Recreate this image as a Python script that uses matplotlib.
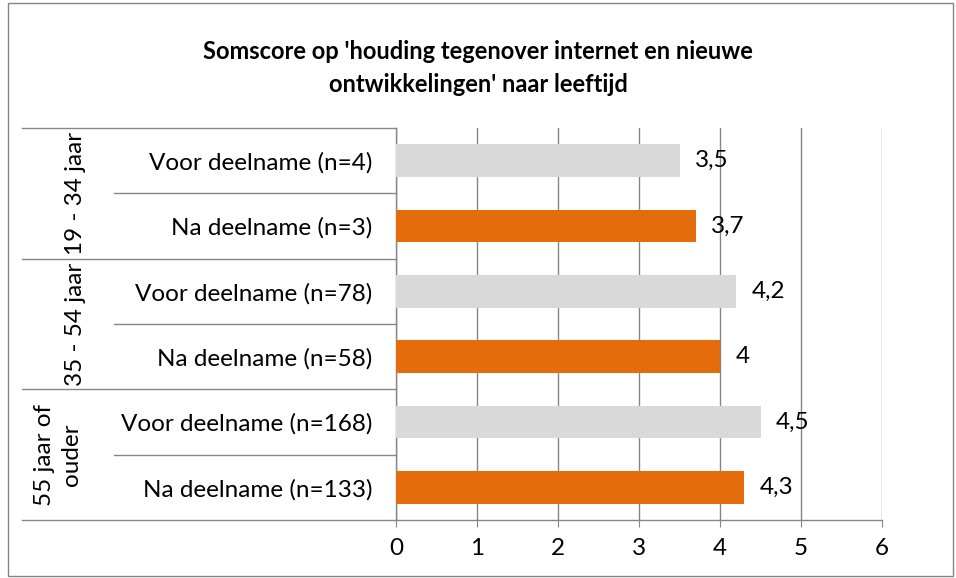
import numpy as np
import matplotlib
matplotlib.use("Agg")
import matplotlib.pyplot as plt
from matplotlib.patches import Rectangle

plt.rcParams['font.family'] = ['Lato', 'DejaVu Sans']

# data
categories = ["Voor deelname (n=4)", "Na deelname (n=3)",
              "Voor deelname (n=78)", "Na deelname (n=58)",
              "Voor deelname (n=168)", "Na deelname (n=133)"]
groups = ["19 - 34 jaar", "35 - 54 jaar", "55 jaar of\nouder"]
scores = [3.5, 3.7, 4.2, 4.0, 4.5, 4.3]
title = "Somscore op 'houding tegenover internet en nieuwe\nontwikkelingen' naar leeftijd"

W, H = 956, 578
grey = '#D9D9D9'
orange = '#E46C0A'
linec = '#868686'
fs = 17.5

fig = plt.figure(figsize=(W / 100, H / 100), dpi=100)
ax = fig.add_axes([396 / W, 58 / H, 486 / W, 392 / H])

y = np.arange(len(scores))
colors = [grey if i % 2 == 0 else orange for i in range(len(scores))]
ax.barh(y, scores, height=0.5, color=colors, zorder=3)

ax.set_xlim(0, 6)
ax.set_ylim(len(scores) - 0.5, -0.5)
ax.set_xticks(range(7))
ax.tick_params(axis='x', direction='out', length=5, color=linec, labelsize=fs, pad=8)
ax.set_yticks(y)
ax.set_yticklabels(categories, fontsize=fs)
ax.tick_params(axis='y', length=0, pad=17)
ax.grid(axis='x', color=linec, linewidth=1, zorder=0)
ax.set_axisbelow(True)
for s in ['top', 'right']:
    ax.spines[s].set_visible(False)
for s in ['left', 'bottom']:
    ax.spines[s].set_color(linec)
    ax.spines[s].set_linewidth(1)

# data labels
for yi, v in zip(y, scores):
    lab = f"{v:g}".replace('.', ',')
    ax.annotate(lab, (v, yi), xytext=(11, 0), textcoords='offset points',
                ha='left', va='center', fontsize=fs, zorder=4)

# category separators
tr = ax.get_yaxis_transform()
x_group = (22 - 396) / 486
x_minor = (114 - 396) / 486
for b in np.arange(-0.5, len(scores), 1.0):
    x0 = x_group if int(b + 0.5) % 2 == 0 else x_minor
    ax.plot([x0, 0], [b, b], color=linec, lw=1, transform=tr, clip_on=False)

# group labels
for gi, g in enumerate(groups):
    xg = (58 - 396) / 486 if '\n' in g else (76 - 396) / 486
    ax.text(xg, 2 * gi + 0.5, g, transform=tr, rotation=90, ha='center', va='center',
            fontsize=fs, multialignment='center', linespacing=1.4)

fig.text(0.5, 1 - 68 / H, title, ha='center', va='center', fontsize=17,
         fontweight='bold', linespacing=1.5)

fig.patches.append(Rectangle((8 / W, 2 / H), 945 / W, 573 / H, transform=fig.transFigure,
                             fill=False, edgecolor=linec, lw=1))

fig.savefig('out.png', dpi=100)
